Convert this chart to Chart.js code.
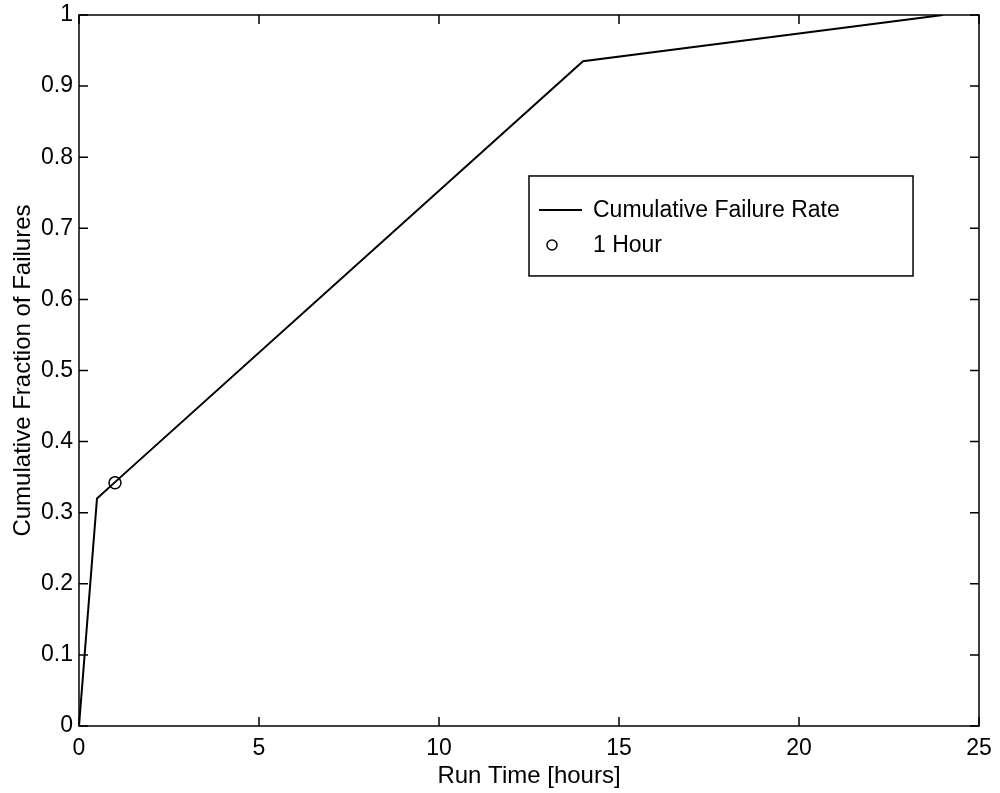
<!DOCTYPE html>
<html>
<head>
<meta charset="utf-8">
<script src="https://cdn.jsdelivr.net/npm/chart.js@4/dist/chart.umd.min.js"></script>
<style>
  html, body { margin: 0; background: #fff; }
</style>
</head>
<body>
<canvas id="chart" width="1000" height="793"></canvas>
<script>
// ── data ──
const runTime  = [0, 0.5, 1, 14, 24];
const failFrac = [0, 0.32, 0.343, 0.935, 1.0];
const markTime = [1];
const markFrac = [0.342];
const xTicks = [0, 5, 10, 15, 20, 25];
const yTicks = [0, 0.1, 0.2, 0.3, 0.4, 0.5, 0.6, 0.7, 0.8, 0.9, 1];
const yTickLabels = ['0', '0.1', '0.2', '0.3', '0.4', '0.5', '0.6', '0.7', '0.8', '0.9', '1'];

const FONT = 'Arial, "Liberation Sans", Helvetica, sans-serif';

// frame, inward ticks on all four sides, legend box
const framePlugin = {
  id: 'frame',
  afterDraw(chart) {
    const { ctx, chartArea: a, scales: { x, y } } = chart;
    const tl = 9;
    ctx.save();
    ctx.strokeStyle = '#000';
    ctx.lineWidth = 1.5;
    ctx.strokeRect(a.left, a.top, a.right - a.left, a.bottom - a.top);
    ctx.beginPath();
    xTicks.forEach(v => {
      const px = x.getPixelForValue(v);
      ctx.moveTo(px, a.bottom); ctx.lineTo(px, a.bottom - tl);
      ctx.moveTo(px, a.top);    ctx.lineTo(px, a.top + tl);
    });
    yTicks.forEach(v => {
      const py = y.getPixelForValue(v);
      ctx.moveTo(a.left, py);  ctx.lineTo(a.left + tl, py);
      ctx.moveTo(a.right, py); ctx.lineTo(a.right - tl, py);
    });
    ctx.stroke();

    // legend
    const w = a.right - a.left, h = a.bottom - a.top;
    const bx = a.left + w * 0.5, by = a.top + h * 0.2264;
    const bw = w * 0.4267, bh = h * 0.1406;
    ctx.fillStyle = '#fff';
    ctx.fillRect(bx, by, bw, bh);
    ctx.lineWidth = 1.5;
    ctx.strokeRect(bx, by, bw, bh);
    const ds = chart.data.datasets;
    const row1 = by + 34, row2 = by + 69;
    ctx.lineWidth = 2;
    ctx.beginPath();
    ctx.moveTo(bx + 10, row1); ctx.lineTo(bx + 53, row1);
    ctx.stroke();
    ctx.lineWidth = 1.5;
    ctx.beginPath();
    ctx.arc(bx + 23, row2, 5, 0, Math.PI * 2);
    ctx.stroke();
    ctx.fillStyle = '#000';
    ctx.font = '23px ' + FONT;
    ctx.textBaseline = 'middle';
    ctx.textAlign = 'left';
    ctx.fillText(ds[0].label, bx + 64, row1 + 1);
    ctx.fillText(ds[1].label, bx + 64, row2 + 1);
    ctx.restore();
  }
};

new Chart(document.getElementById('chart'), {
  type: 'scatter',
  data: {
    datasets: [
      {
        label: 'Cumulative Failure Rate',
        data: runTime.map((t, i) => ({ x: t, y: failFrac[i] })),
        showLine: true,
        borderColor: '#000',
        borderWidth: 2,
        pointRadius: 0,
        tension: 0,
      },
      {
        label: '1 Hour',
        data: markTime.map((t, i) => ({ x: t, y: markFrac[i] })),
        showLine: false,
        pointStyle: 'circle',
        pointRadius: 6,
        pointBorderWidth: 1.5,
        pointBorderColor: '#000',
        pointBackgroundColor: 'rgba(0,0,0,0)',
      },
    ],
  },
  options: {
    responsive: false,
    animation: false,
    layout: { padding: { left: 0, right: 21, top: 15, bottom: 0 } },
    plugins: { legend: { display: false }, tooltip: { enabled: false } },
    scales: {
      x: {
        type: 'linear', min: 0, max: 25,
        grid: { display: false, drawTicks: false },
        border: { display: false },
        afterBuildTicks: s => { s.ticks = xTicks.map(v => ({ value: v })); },
        afterFit: s => { s.height = 67; s.paddingRight = 0; s.paddingLeft = 0; },
        ticks: { color: '#000', font: { family: FONT, size: 23 }, padding: 9, maxRotation: 0, autoSkip: false },
        title: { display: true, text: 'Run Time [hours]', color: '#000', font: { family: FONT, size: 24 }, padding: { top: 0, bottom: 2 } },
      },
      y: {
        type: 'linear', min: 0, max: 1,
        grid: { display: false, drawTicks: false },
        border: { display: false },
        afterBuildTicks: s => { s.ticks = yTicks.map(v => ({ value: v })); },
        afterFit: s => { s.width = 79; s.paddingTop = 0; s.paddingBottom = 0; },
        ticks: {
          color: '#000', font: { family: FONT, size: 23 }, padding: 6, autoSkip: false,
          callback: (v, i) => yTickLabels[i],
        },
        title: { display: true, text: 'Cumulative Fraction of Failures', color: '#000', font: { family: FONT, size: 24 }, padding: { top: 9, bottom: 0 } },
      },
    },
  },
  plugins: [framePlugin],
});
</script>
</body>
</html>
